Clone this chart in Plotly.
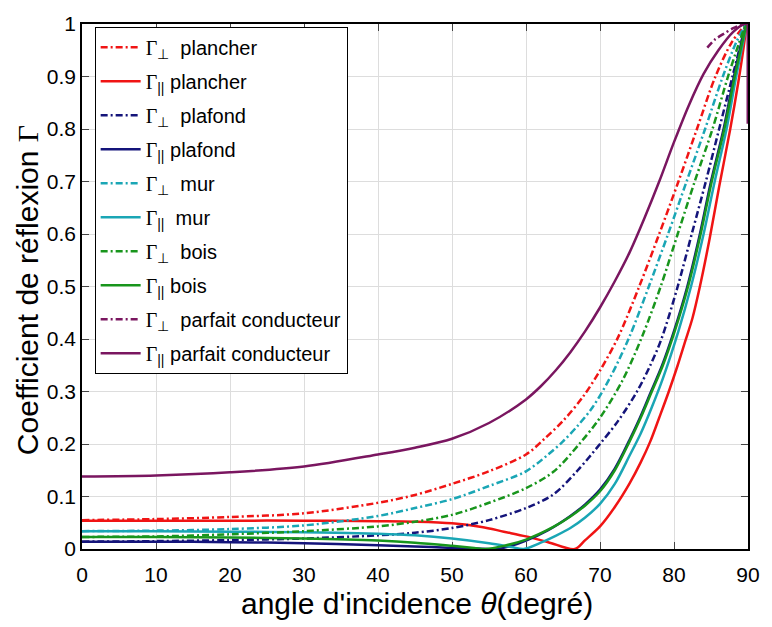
import plotly.graph_objects as go

# ---------------- data ----------------
th_perp_plancher = [0, 10, 20, 30, 40, 45, 50, 55, 60, 62.5, 65, 67.7, 70, 72.5, 75.3, 78, 80.6, 83.1, 85.6, 87.8, 89.7]
g_perp_plancher = [0.055, 0.057, 0.061, 0.068, 0.088, 0.103, 0.124, 0.148, 0.18, 0.21, 0.244, 0.29, 0.34, 0.405, 0.50, 0.60, 0.70, 0.80, 0.90, 0.965, 1.0]

th_par_plancher = [0, 10, 20, 30, 40, 45, 50, 54, 57, 60, 63, 66.6, 68, 70, 72, 74, 75.5, 76.8, 78, 79.3, 80.5, 81.5, 82.5, 83.5, 84.8, 86.1, 87.6, 88.7, 89.5, 89.8]
g_par_plancher = [0.054, 0.054, 0.054, 0.054, 0.053, 0.052, 0.049, 0.042, 0.033, 0.024, 0.013, 0.0, 0.017, 0.043, 0.08, 0.125, 0.165, 0.205, 0.25, 0.3, 0.35, 0.395, 0.44, 0.5, 0.59, 0.69, 0.8, 0.89, 0.965, 1.0]

th_perp_plafond = [0, 10, 20, 30, 40, 45, 50, 55, 60, 63.7, 67, 70, 72.5, 75, 76.8, 78.3, 80.5, 82.4, 84.3, 86.1, 87.9, 89.7]
g_perp_plafond = [0.014, 0.015, 0.017, 0.02, 0.026, 0.031, 0.04, 0.055, 0.078, 0.104, 0.15, 0.2, 0.245, 0.3, 0.35, 0.40, 0.50, 0.60, 0.70, 0.80, 0.90, 1.0]

th_par_plafond = [0, 10, 20, 30, 40, 45, 50, 53, 56, 58, 60, 63, 66, 68, 70, 72, 74, 75.4, 76.9, 78.4, 80.0, 81.8, 83.5, 85.0, 86.7, 88.1, 89.2, 89.8]
g_par_plafond = [0.014, 0.014, 0.013, 0.011, 0.007, 0.005, 0.002, 0.001, 0.0, 0.006, 0.016, 0.036, 0.063, 0.085, 0.113, 0.153, 0.208, 0.25, 0.3, 0.35, 0.415, 0.5, 0.6, 0.7, 0.8, 0.9, 0.97, 1.0]

th_perp_mur = [0, 10, 20, 30, 40, 45, 50, 55, 60, 63, 65, 67, 69, 71.5, 74, 76.6, 79.2, 81.7, 84.2, 86.6, 88.4, 89.7]
g_perp_mur = [0.034, 0.035, 0.038, 0.045, 0.063, 0.078, 0.095, 0.12, 0.148, 0.18, 0.205, 0.235, 0.27, 0.33, 0.405, 0.50, 0.60, 0.70, 0.80, 0.90, 0.965, 1.0]

th_par_mur = [0, 10, 20, 30, 40, 45, 50, 55, 58, 59.7, 62, 64, 66, 68, 70, 72, 74, 75.5, 77, 78.5, 80.6, 82.3, 84, 85.5, 87.1, 88.4, 89.4, 89.8]
g_par_mur = [0.034, 0.034, 0.033, 0.032, 0.029, 0.026, 0.02, 0.011, 0.004, 0.0, 0.012, 0.025, 0.04, 0.06, 0.086, 0.124, 0.178, 0.22, 0.27, 0.325, 0.415, 0.5, 0.6, 0.7, 0.8, 0.9, 0.97, 1.0]

th_perp_bois = [0, 10, 20, 30, 40, 45, 50, 55, 60, 63.7, 67.2, 70, 73, 75.7, 78.2, 80.5, 82.8, 85.2, 87.3, 88.7, 89.7]
g_perp_bois = [0.023, 0.024, 0.028, 0.034, 0.043, 0.052, 0.065, 0.088, 0.116, 0.147, 0.2, 0.25, 0.32, 0.405, 0.50, 0.60, 0.70, 0.80, 0.90, 0.96, 1.0]

th_par_bois = [0, 10, 20, 30, 40, 45, 50, 53, 54.5, 57, 60, 63.7, 66, 68, 70, 72, 74, 75.5, 77, 78.5, 80.1, 81.9, 83.6, 85.1, 86.8, 88.2, 89.3, 89.8]
g_par_bois = [0.023, 0.023, 0.022, 0.02, 0.016, 0.012, 0.006, 0.002, 0.0, 0.006, 0.018, 0.042, 0.062, 0.083, 0.11, 0.15, 0.205, 0.25, 0.3, 0.35, 0.415, 0.5, 0.6, 0.7, 0.8, 0.9, 0.97, 1.0]

th_perp_pc = [84.5, 85.5, 86.8, 88.0, 89.0, 89.6]
g_perp_pc = [0.955, 0.97, 0.982, 0.992, 0.998, 1.0]

th_par_pc = [0, 10, 20, 30, 40, 45, 50, 55, 60, 62, 64, 66, 68, 70, 72, 74, 76, 78, 80, 82, 84, 86, 88, 89.5, 90]
g_par_pc = [0.138, 0.140, 0.146, 0.157, 0.180, 0.193, 0.21, 0.24, 0.285, 0.31, 0.34, 0.375, 0.415, 0.46, 0.51, 0.565, 0.63, 0.70, 0.775, 0.845, 0.905, 0.95, 0.985, 1.0, 1.0]
# final vertical drop of the conductor curve at 90 degrees
th_par_pc_end = [90, 90]
g_par_pc_end = [1.0, 0.81]

x_ticks = [0, 10, 20, 30, 40, 50, 60, 70, 80, 90]
y_ticks = [0, 0.1, 0.2, 0.3, 0.4, 0.5, 0.6, 0.7, 0.8, 0.9, 1]
y_tick_text = ["0", "0.1", "0.2", "0.3", "0.4", "0.5", "0.6", "0.7", "0.8", "0.9", "1"]

# ---------------- styles ----------------
RED = "#f01414"
NAVY = "#14147a"
CYAN = "#1aa6b5"
GREEN = "#18951c"
PURPLE = "#7a1660"
DASHDOT = "7px,3px,2px,3px"
G = "<span style='font-family:Liberation Serif'>Γ</span>"
PERP = G + "<sub>⊥</sub>  "
PAR = G + "<sub>||</sub> "

series = [
    (th_perp_plancher, g_perp_plancher, RED, DASHDOT, PERP + "plancher"),
    (th_par_plancher, g_par_plancher, RED, "solid", PAR + "plancher"),
    (th_perp_plafond, g_perp_plafond, NAVY, DASHDOT, PERP + "plafond"),
    (th_par_plafond, g_par_plafond, NAVY, "solid", PAR + "plafond"),
    (th_perp_mur, g_perp_mur, CYAN, DASHDOT, PERP + "mur"),
    (th_par_mur, g_par_mur, CYAN, "solid", PAR + " mur"),
    (th_perp_bois, g_perp_bois, GREEN, DASHDOT, PERP + "bois"),
    (th_par_bois, g_par_bois, GREEN, "solid", PAR + "bois"),
    (th_perp_pc, g_perp_pc, PURPLE, DASHDOT, PERP + "parfait conducteur"),
    (th_par_pc, g_par_pc, PURPLE, "solid", PAR + "parfait conducteur"),
]

fig = go.Figure()
for i, (th, g, color, dash, name) in enumerate(series):
    fig.add_trace(go.Scatter(
        x=th, y=g, mode="lines", name=name, legendgroup="g%d" % i,
        line=dict(color=color, width=2.5, dash=dash, shape="spline", smoothing=0.9),
    ))
fig.add_trace(go.Scatter(
    x=th_par_pc_end, y=g_par_pc_end, mode="lines", showlegend=False,
    legendgroup="g9", line=dict(color=PURPLE, width=3), cliponaxis=False,
))

FONT = "Liberation Sans, Arial, sans-serif"
fig.update_layout(
    width=772, height=627,
    margin=dict(l=82, r=15, t=13, b=78),
    paper_bgcolor="white", plot_bgcolor="white",
    font=dict(family=FONT, color="black"),
    showlegend=True,
    legend=dict(
        x=0.019, y=0.995, xanchor="left", yanchor="top",
        bgcolor="white", bordercolor="black", borderwidth=1,
        font=dict(family=FONT, size=20, color="black"),
        traceorder="grouped", tracegroupgap=5, itemwidth=40,
    ),
    xaxis=dict(
        range=[0, 90], tickvals=x_ticks, ticks="inside", ticklen=7,
        showline=True, linecolor="black", linewidth=1.5, mirror="ticks",
        showgrid=True, gridcolor="#dddddd", gridwidth=1, zeroline=False,
        tickfont=dict(size=21, family=FONT), ticklabelstandoff=6,
        layer="below traces",
    ),
    yaxis=dict(
        range=[0, 1], tickvals=y_ticks, ticktext=y_tick_text, ticks="inside", ticklen=7,
        showline=True, linecolor="black", linewidth=1.5, mirror="ticks",
        showgrid=True, gridcolor="#dddddd", gridwidth=1, zeroline=False,
        tickfont=dict(size=21, family=FONT),
        layer="below traces",
    ),
    annotations=[
        dict(text="Coefficient de réflexion " + G, xref="paper", yref="paper",
             x=(27 - 82) / 675, y=(549 - 285) / 536, xanchor="center", yanchor="middle",
             textangle=-90, showarrow=False, font=dict(size=30, family=FONT)),
        dict(text="angle d'incidence <i>θ</i>(degré)", xref="paper", yref="paper",
             x=(422 - 82) / 675, y=(549 - 605) / 536, xanchor="center", yanchor="middle",
             showarrow=False, font=dict(size=30, family=FONT)),
    ],
)

fig.write_html("out.html")
